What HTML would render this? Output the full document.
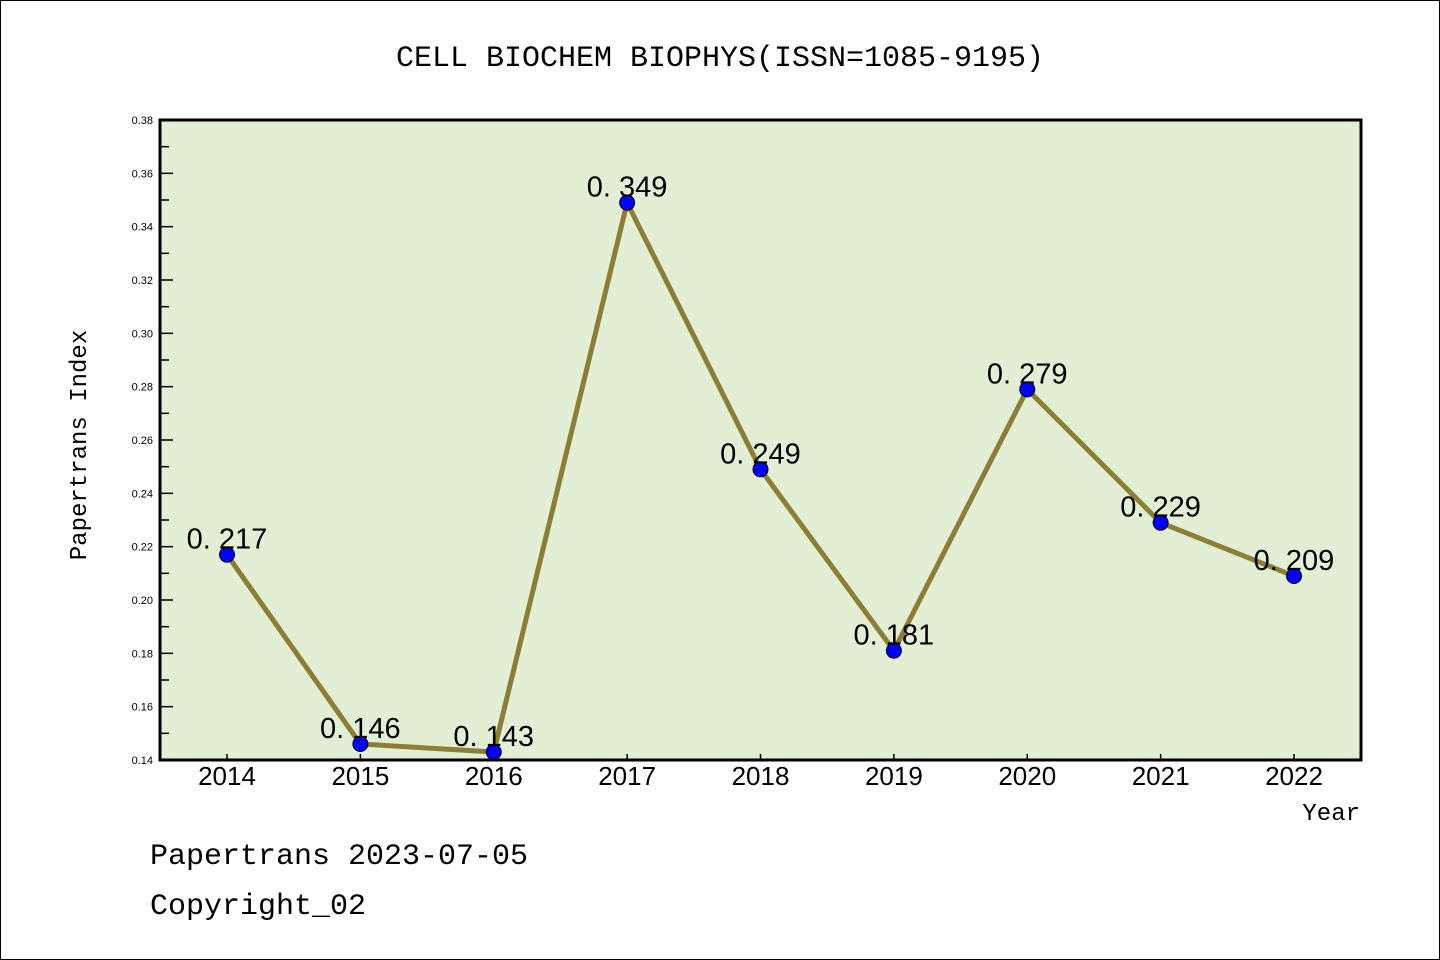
<!DOCTYPE html>
<html><head><meta charset="utf-8"><style>
html,body{margin:0;padding:0;background:#fff}
svg{display:block}
text{fill:#000}
.mono{font-family:"Liberation Mono",monospace}
.sans{font-family:"Liberation Sans",sans-serif}
</style></head><body>
<svg id="chart" width="1440" height="960" xmlns="http://www.w3.org/2000/svg">
<rect x="0.5" y="0.5" width="1439" height="959" fill="#fff" stroke="#000"/>
<text class="mono" x="720" y="66" font-size="30" text-anchor="middle">CELL BIOCHEM BIOPHYS(ISSN=1085-9195)</text>
<rect x="160" y="120" width="1201" height="640" fill="#e2efd5"/>
<g id="yticks"></g>
<g id="xticks"></g>
<g id="series"></g>
<rect x="160" y="120" width="1201" height="640" fill="none" stroke="#000" stroke-width="3"/>
<text class="mono" x="86" y="445" font-size="24" text-anchor="middle" transform="rotate(-90 86 445)">Papertrans Index</text>
<text class="mono" x="1360" y="820" font-size="24" text-anchor="end">Year</text>
<text class="mono" x="150" y="864" font-size="30">Papertrans 2023-07-05</text>
<text class="mono" x="150" y="914" font-size="30">Copyright_02</text>
</svg>
<script>
const years = [2014,2015,2016,2017,2018,2019,2020,2021,2022];
const values = [0.217,0.146,0.143,0.349,0.249,0.181,0.279,0.229,0.209];
const yTicks = [0.14,0.16,0.18,0.20,0.22,0.24,0.26,0.28,0.30,0.32,0.34,0.36,0.38];
const NS="http://www.w3.org/2000/svg";
const yMin=0.14,yMax=0.38,plotTop=120,plotBot=760;
const yScale=v=>plotBot-(v-yMin)/(yMax-yMin)*(plotBot-plotTop);
const xScale=i=>227+i*(1294-227)/(years.length-1);
function mk(tag,attrs,parent){const e=document.createElementNS(NS,tag);for(const k in attrs)e.setAttribute(k,attrs[k]);parent.appendChild(e);return e;}
const yg=document.getElementById('yticks'),xg=document.getElementById('xticks'),sg=document.getElementById('series');
yTicks.forEach((t,i)=>{
  const l=mk('line',{x1:160,x2:173,y1:yScale(t),y2:yScale(t),stroke:'#000','stroke-width':1.5},yg);
  
  
  const tx=mk('text',{x:153,y:yScale(t)+4,'font-size':11,'text-anchor':'end','class':'sans'},yg);
  tx.textContent=t.toFixed(2);
  
  
  if(i<yTicks.length-1){const m=(t+yTicks[i+1])/2;
    const ml=mk('line',{x1:160,x2:169,y1:yScale(m),y2:yScale(m),stroke:'#000','stroke-width':1.5},yg);
    
    }
});
years.forEach((yr,i)=>{
  const l=mk('line',{x1:xScale(i),x2:xScale(i),y1:760,y2:754,stroke:'#000','stroke-width':1.5},xg);
  
  
  const t=mk('text',{x:xScale(i),y:785,'font-size':26,'text-anchor':'middle','class':'sans'},xg);
  t.textContent=yr;
  
  
});
const pl=mk('polyline',{points:values.map((v,i)=>xScale(i)+','+yScale(v)).join(' '),fill:'none',stroke:'#8c7f35','stroke-width':5,'stroke-linejoin':'round'},sg);


values.forEach((v,i)=>{
  const c=mk('circle',{cx:xScale(i),cy:yScale(v),r:7.5,fill:'#0000ff',stroke:'#000','stroke-width':1},sg);
  
  
  const t=mk('text',{x:xScale(i),y:yScale(v)-6,'font-size':29,'text-anchor':'middle','class':'sans'},sg);
  t.textContent=v.toFixed(3).replace('.','. ');
  
  
});
</script>
</body></html>
